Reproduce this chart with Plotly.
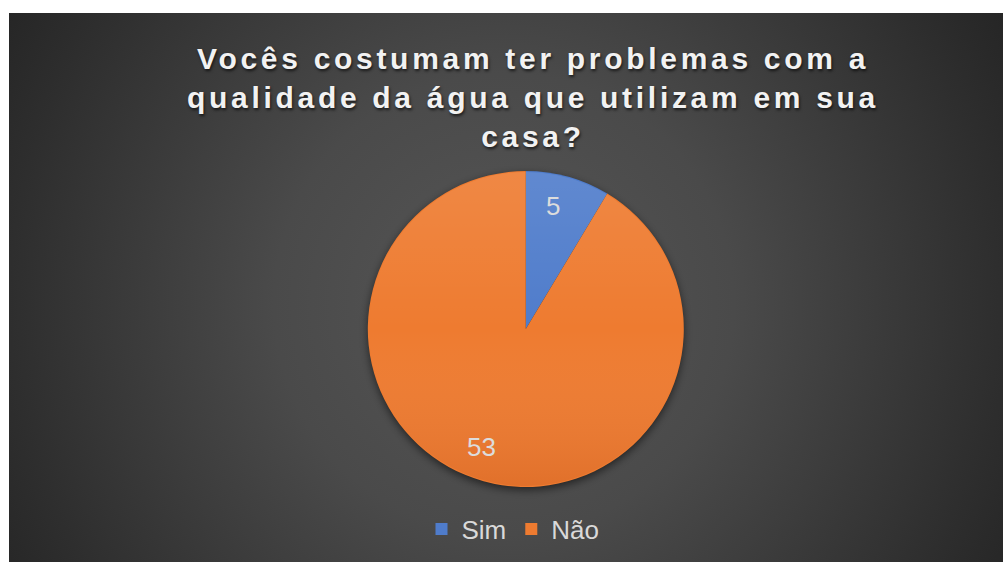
import base64
import math
import plotly.graph_objects as go

# Survey answers
categories = ["Sim", "Não"]
counts = [5, 53]
slice_colors = ["#4f7ccb", "#ee7b30"]

title_text = "Vocês costumam ter problemas com a<br>qualidade da água que utilizam em sua<br>casa?"

# Canvas and pie geometry (pixels)
W, H = 1003, 562
BG_X0, BG_Y0 = 9, 13
PIE_CX, PIE_CY, PIE_R = 525.8, 329.0, 158.0


def svg_uri(svg):
    return "data:image/svg+xml;base64," + base64.b64encode(svg.encode("utf-8")).decode("ascii")


# Dark radial-gradient backdrop with a soft drop shadow under the pie
bw, bh = W - BG_X0, H - BG_Y0
bg_svg = f"""<svg xmlns='http://www.w3.org/2000/svg' width='{bw}' height='{bh}' viewBox='0 0 {bw} {bh}' preserveAspectRatio='none'>
<defs>
<radialGradient id='g' gradientUnits='userSpaceOnUse' cx='{bw/2 - 2}' cy='{bh*0.53}' r='575'>
<stop offset='0' stop-color='#565656'/>
<stop offset='0.4' stop-color='#4a4a4a'/>
<stop offset='0.86' stop-color='#2e2e2e'/>
<stop offset='1' stop-color='#262626'/>
</radialGradient>
<filter id='b' x='-20%' y='-20%' width='140%' height='140%'><feGaussianBlur stdDeviation='4'/></filter>
</defs>
<rect x='0' y='0' width='{bw}' height='{bh}' fill='url(#g)'/>
<circle cx='{PIE_CX - BG_X0}' cy='{PIE_CY - BG_Y0 + 3}' r='{PIE_R}' fill='#000' fill-opacity='0.55' filter='url(#b)'/>
</svg>"""

# Light-to-dark sheen laid over the pie
sheen_svg = """<svg xmlns='http://www.w3.org/2000/svg' width='100' height='100' viewBox='0 0 100 100' preserveAspectRatio='none'>
<defs><linearGradient id='s' x1='0' y1='0' x2='0' y2='1'>
<stop offset='0' stop-color='#ffffff' stop-opacity='0.10'/>
<stop offset='0.5' stop-color='#ffffff' stop-opacity='0'/>
<stop offset='1' stop-color='#802000' stop-opacity='0.12'/>
</linearGradient></defs>
<circle cx='50' cy='50' r='49.7' fill='url(#s)'/>
</svg>"""

fig = go.Figure()

fig.add_trace(go.Pie(
    labels=categories,
    values=counts,
    marker=dict(colors=slice_colors, line=dict(width=0)),
    sort=False,
    direction="clockwise",
    rotation=0,
    textinfo="none",
    hoverinfo="label+value",
    domain=dict(
        x=[(PIE_CX - PIE_R) / W, (PIE_CX + PIE_R) / W],
        y=[1 - (PIE_CY + PIE_R) / H, 1 - (PIE_CY - PIE_R) / H],
    ),
    showlegend=True,
))

# Value labels placed near each slice's mid-angle
total = sum(counts)
annotations = []
start = 0.0
for label, value in zip(categories, counts):
    span = 360.0 * value / total
    mid = math.radians(start + span / 2 + (-3 if span < 180 else 5))
    start += span
    k = 0.80
    px = PIE_CX + k * PIE_R * math.sin(mid)
    py = PIE_CY - k * PIE_R * math.cos(mid)
    annotations.append(dict(
        x=px / W, y=1 - py / H, xref="paper", yref="paper",
        text=str(value), showarrow=False,
        xanchor="center", yanchor="middle",
        font=dict(family="Liberation Sans, Arial, sans-serif", size=26, color="#dcdcdc"),
    ))

fig.update_layout(
    width=W, height=H,
    margin=dict(l=0, r=0, t=0, b=0),
    paper_bgcolor="#ffffff",
    plot_bgcolor="rgba(0,0,0,0)",
    title=dict(
        text=title_text,
        x=533 / W, xanchor="center", xref="paper",
        y=1 - 69 / H, yanchor="top", yref="paper",
        font=dict(family="Liberation Sans, Arial, sans-serif", size=30, weight="bold",
                  color="#f2f2f2", shadow="1px 2px 3px rgba(0,0,0,0.65)"),
    ),
    legend=dict(
        orientation="h",
        x=513 / W, xanchor="center",
        y=1 - 529 / H, yanchor="middle",
        font=dict(family="Liberation Sans, Arial, sans-serif", size=26, color="#d9d9d9"),
        bgcolor="rgba(0,0,0,0)",
        itemwidth=30,
    ),
    annotations=annotations,
    images=[
        dict(source=svg_uri(bg_svg), xref="paper", yref="paper",
             x=BG_X0 / W, y=1 - BG_Y0 / H, sizex=bw / W, sizey=bh / H,
             xanchor="left", yanchor="top", sizing="stretch", layer="below"),
        dict(source=svg_uri(sheen_svg), xref="paper", yref="paper",
             x=(PIE_CX - PIE_R) / W, y=1 - (PIE_CY - PIE_R) / H,
             sizex=2 * PIE_R / W, sizey=2 * PIE_R / H,
             xanchor="left", yanchor="top", sizing="stretch", layer="above"),
    ],
)

letter_spacing_js = (
    "document.querySelectorAll('.gtitle').forEach(function(t){"
    "t.style.letterSpacing='3.7px';});"
)

fig.write_html("out.html", post_script=letter_spacing_js)
